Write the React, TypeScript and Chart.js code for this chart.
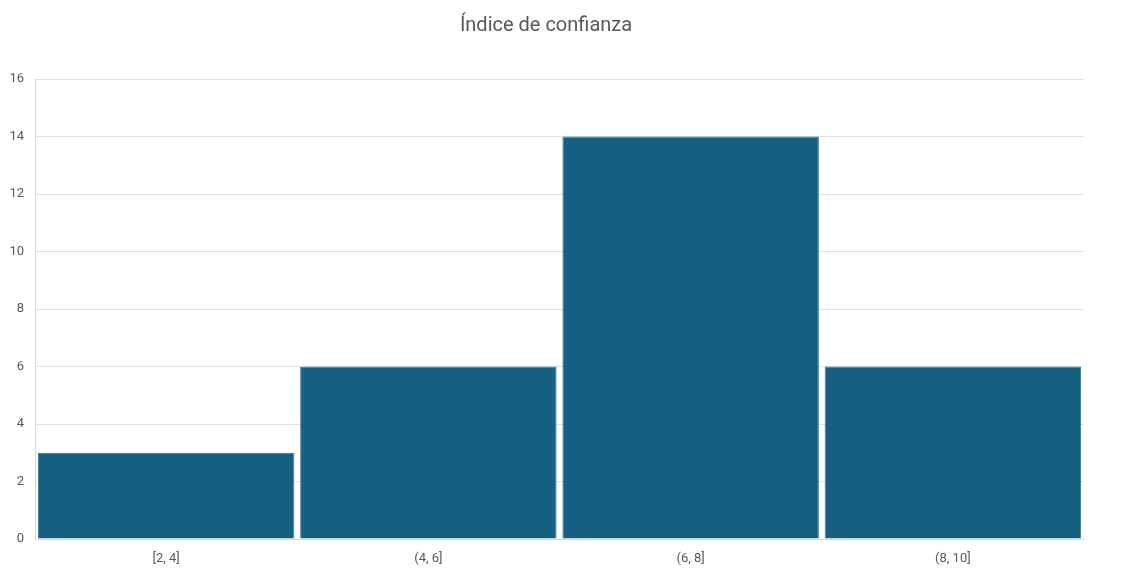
import React, { useEffect, useRef } from "react";
import { Chart, registerables } from "chart.js";

Chart.register(...registerables);

const categories = ["[2, 4]", "(4, 6]", "(6, 8]", "(8, 10]"];
const counts = [3, 6, 14, 6];
const titleText = "Índice de confianza";

export default function App() {
  const ref = useRef<HTMLCanvasElement>(null);
  useEffect(() => {
    if (!ref.current) return;
    const chart = new Chart(ref.current, {
      type: "bar",
      data: {
        labels: categories,
        datasets: [
          {
            label: "Frecuencia",
            data: counts,
            backgroundColor: "#165f80",
            borderColor: "#3a7a96",
            borderWidth: 1,
            barPercentage: 0.978,
            categoryPercentage: 1,
          },
        ],
      },
      options: {
        responsive: false,
        animation: false,
        layout: { padding: { left: 8, right: 42, top: 8, bottom: 0 } },
        plugins: {
          legend: { display: false },
          tooltip: { enabled: false },
          title: {
            display: true,
            text: titleText,
            color: "#595959",
            font: { family: "Roboto", size: 20, weight: "normal" },
            padding: { top: 6, bottom: 41 },
          },
        },
        scales: {
          x: {
            grid: { display: false, drawTicks: false },
            border: { display: true, color: "#d9d9d9", width: 1 },
            ticks: {
              color: "#595959",
              font: { family: "Roboto", size: 13 },
              padding: 12,
            },
            afterFit: (scale: any) => {
              scale.height = 30;
            },
          },
          y: {
            min: 0,
            max: 16,
            grid: { color: "#e0e0e0", drawTicks: false },
            border: { display: true, color: "#d9d9d9", width: 1 },
            ticks: {
              stepSize: 2,
              color: "#595959",
              font: { family: "Roboto", size: 13 },
              padding: 11,
            },
            afterFit: (scale: any) => {
              scale.width = 27;
            },
          },
        },
      },
    });
    return () => chart.destroy();
  }, []);
  return (
    <div style={{ position: "absolute", left: 0, top: 0, width: 1126, height: 569, background: "#fff" }}>
      <canvas ref={ref} width={1126} height={569} style={{ width: 1126, height: 569 }} />
    </div>
  );
}
